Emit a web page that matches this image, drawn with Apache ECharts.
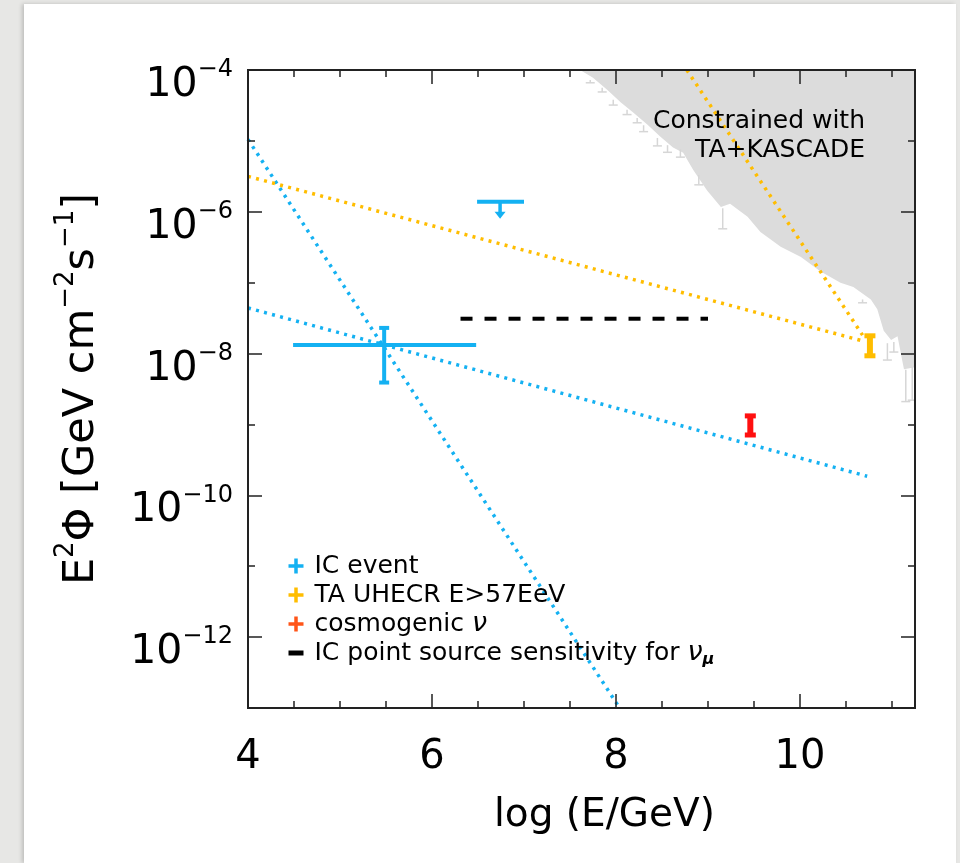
<!DOCTYPE html>
<html><head><meta charset="utf-8">
<script src="https://cdn.jsdelivr.net/npm/echarts@6/dist/echarts.min.js"></script>
<style>
html,body{margin:0;padding:0;background:#e7e7e5;overflow:hidden;width:960px;height:863px;}
#card{position:absolute;left:24px;top:4px;width:932px;height:859px;background:#fff;box-shadow:-2px 0 4px rgba(0,0,0,0.18);}
#chart{position:absolute;left:0;top:0;width:960px;height:863px;}
</style></head><body>
<div id="card"></div><div id="chart"></div>
<script>
// ---------------- data ----------------
// IC event (best fit with error bars)
const icEventX = [5.48], icEventY = [1.32e-8];
const icEventXLo = [4.49], icEventXHi = [6.48];
const icEventYLo = [3.9e-9], icEventYHi = [2.3e-8];
// IC upper limit with arrow
const icLimitXLo = [6.49], icLimitXHi = [7.0], icLimitY = [1.38e-6];
const icLimitArrowX = [6.74], icLimitArrowTip = [8.0e-7];
// TA UHECR point
const taX = [10.76], taY = [1.29e-8], taYLo = [9.3e-9], taYHi = [1.78e-8];
// cosmogenic neutrino point
const cosmoX = [9.46], cosmoY = [9.8e-10], cosmoYLo = [7.1e-10], cosmoYHi = [1.32e-9];
// dotted power-law lines (end points)
const icSteepX = [4, 8.04], icSteepY = [1.05e-5, 1e-13];
const icShallowX = [4, 10.73], icShallowY = [4.4e-8, 1.86e-10];
const taShallowX = [4, 10.68], taShallowY = [3.16e-6, 1.51e-8];
const taSteepX = [8.77, 10.68], taSteepY = [1e-4, 1.82e-8];
// IC point source sensitivity (dashed)
const sensX = [6.31, 9.0], sensY = [3.1e-8, 3.1e-8];
// Constrained with TA+KASCADE (lower boundary of shaded region)
const constrX = [7.61, 7.75, 7.91, 8.05, 8.19, 8.34, 8.48, 8.62, 8.73, 8.84, 8.99, 9.14, 9.24, 9.43, 9.57, 9.79, 10.01, 10.22, 10.44, 10.58, 10.77, 10.84, 10.91, 10.99, 11.06, 11.13, 11.25];
const constrY = [1e-4, 7.8e-5, 5.2e-5, 3.5e-5, 2.5e-5, 1.7e-5, 1.15e-5, 8.1e-6, 6.8e-6, 3.9e-6, 2.0e-6, 1.17e-6, 1.3e-6, 8.5e-7, 5.2e-7, 3.2e-7, 2.3e-7, 1.45e-7, 1.0e-7, 8.7e-8, 5.8e-8, 4.2e-8, 2.1e-8, 1.55e-8, 1.75e-8, 6.0e-9, 6.4e-9];
// error bars hanging from the shaded boundary
const constrBarX = [7.72, 7.85, 7.97, 8.12, 8.23, 8.30, 8.45, 8.56, 8.70, 8.90, 9.16, 10.68, 10.95, 11.02, 11.15, 11.22];
const constrBarHi = [7.2e-5, 5.6e-5, 3.8e-5, 2.75e-5, 2.1e-5, 1.66e-5, 1.1e-5, 8.7e-6, 7.6e-6, 3.3e-6, 1.12e-6, 5.8e-8, 1.4e-8, 1.45e-8, 5.9e-9, 6.5e-9];
const constrBarLo = [6.6e-5, 4.9e-5, 3.2e-5, 2.35e-5, 1.8e-5, 1.35e-5, 8.5e-6, 6.9e-6, 5.9e-6, 2.4e-6, 5.75e-7, 5.2e-8, 8.1e-9, 1.05e-8, 2.1e-9, 2.2e-9];
// axis tick labels
const xTickLabels = [4, 6, 8, 10];
const yTickExps = [-12, -10, -8, -6, -4];
// legend
const legendNames = ['IC event', 'TA UHECR E>57EeV', 'cosmogenic ν', 'IC point source sensitivity for νμ'];
const legendRich = {
  'IC event': '{t|IC event}',
  'TA UHECR E>57EeV': '{t|TA UHECR E>57EeV}',
  'cosmogenic ν': '{t|cosmogenic }{g|ν}',
  'IC point source sensitivity for νμ': '{t|IC point source sensitivity for }{g|ν}{m|μ}'
};
const annotationLines = ['Constrained with', 'TA+KASCADE'];

// ---------------- styles ----------------
const FONT = '"DejaVu Sans", "Liberation Sans", sans-serif';
const BLUE = '#14b1f2', ORANGE = '#ffbd00', RED = '#ff1010', COSMO_LEG = '#ff5518';
const GREYFILL = '#dcdcdc', GREYBAR = '#d6d6d6', INK = '#222';
const X_MIN = 4, X_MAX = 11.25, Y_MIN = 1e-13, Y_MAX = 1e-4;
const PLUS = 'path://M0,0M27,15M11.75,0H15.25V5.75H21V9.25H15.25V15H11.75V9.25H6V5.75H11.75Z';
const BAR = 'path://M0,0M27,15M6,5H21V10H6Z';
const legendIcons = [PLUS, PLUS, PLUS, BAR];
const legendColors = [BLUE, ORANGE, COSMO_LEG, '#000'];

function zip(a, b) { return a.map((v, i) => [v, b[i]]); }

function xAxisDef(pos, interval, len, labels) {
  return {
    type: 'value', position: pos, min: X_MIN, max: X_MAX, interval: interval, z: 5,
    axisLine: { show: true, onZero: false, lineStyle: { color: INK, width: 2 } },
    axisTick: { show: true, inside: true, length: len, lineStyle: { color: INK, width: 1.5 } },
    axisLabel: labels ? {
      show: true, margin: 30, showMaxLabel: false, fontFamily: FONT, fontSize: 40, color: '#000',
      formatter: v => xTickLabels.includes(Math.round(v)) && Math.abs(v - Math.round(v)) < 1e-6 ? String(Math.round(v)) : ''
    } : { show: false },
    splitLine: { show: false },
    name: labels ? 'log (E/GeV)' : '', nameLocation: 'middle', nameGap: 88,
    nameTextStyle: { fontFamily: FONT, fontSize: 39, color: '#000', padding: [0, 0, 0, 46] }
  };
}
function yAxisDef(pos, base, len, labels) {
  const ax = {
    type: 'log', logBase: base, position: pos, min: Y_MIN, max: Y_MAX, z: 5,
    axisLine: { show: true, onZero: false, lineStyle: { color: INK, width: 2 } },
    axisTick: { show: true, inside: true, length: len, lineStyle: { color: INK, width: 1.5 } },
    axisLabel: { show: false },
    splitLine: { show: false }, minorTick: { show: false }
  };
  if (labels) {
    ax.axisLabel = {
      show: true, margin: 15, showMinLabel: false, showMaxLabel: true,
      formatter: v => { const e = Math.round(Math.log10(v)); return yTickExps.includes(e) ? '{b|10}{s|−' + (-e) + '}' : ''; },
      rich: {
        b: { fontFamily: FONT, fontSize: 41, lineHeight: 41, color: '#000', verticalAlign: 'bottom' },
        s: { fontFamily: FONT, fontSize: 24, lineHeight: 72, color: '#000', verticalAlign: 'middle' }
      }
    };
    ax.name = '{n|E}{u|2}{n|Φ [GeV cm}{u|−2}{n|s}{u|−1}{n|]}';
    ax.nameLocation = 'middle'; ax.nameRotate = 90; ax.nameGap = 145;
    ax.nameTextStyle = {
      fontFamily: FONT, fontSize: 43, color: '#000',
      rich: {
        n: { fontFamily: FONT, fontSize: 43, lineHeight: 50, color: '#000', verticalAlign: 'bottom' },
        u: { fontFamily: FONT, fontSize: 26, lineHeight: 25, color: '#000', verticalAlign: 'top' }
      }
    };
  }
  return ax;
}

function vBarRender(color, stemW, capW, capH, capTop, capBottom) {
  return function (params, api) {
    const x = api.value(0);
    const a = api.coord([x, api.value(1)]);
    const b = api.coord([x, api.value(2)]);
    const ch = [{ type: 'line', shape: { x1: a[0], y1: a[1], x2: b[0], y2: b[1] }, style: { stroke: color, lineWidth: stemW } }];
    if (capTop) ch.push({ type: 'rect', shape: { x: a[0] - capW / 2, y: a[1] - capH / 2, width: capW, height: capH }, style: { fill: color } });
    if (capBottom) ch.push({ type: 'rect', shape: { x: b[0] - capW / 2, y: b[1] - capH / 2, width: capW, height: capH }, style: { fill: color } });
    return { type: 'group', children: ch };
  };
}
function crossRender(params, api) {
  const x = api.value(0), y = api.value(1);
  const l = api.coord([api.value(2), y]), r = api.coord([api.value(3), y]);
  const lo = api.coord([x, api.value(4)]), hi = api.coord([x, api.value(5)]);
  return { type: 'group', children: [
    { type: 'line', shape: { x1: l[0], y1: l[1], x2: r[0], y2: r[1] }, style: { stroke: BLUE, lineWidth: 4 } },
    { type: 'line', shape: { x1: hi[0], y1: hi[1], x2: lo[0], y2: lo[1] }, style: { stroke: BLUE, lineWidth: 4 } },
    { type: 'rect', shape: { x: hi[0] - 5, y: hi[1] - 2, width: 10, height: 4 }, style: { fill: BLUE } },
    { type: 'rect', shape: { x: lo[0] - 5, y: lo[1] - 2, width: 10, height: 4 }, style: { fill: BLUE } }
  ] };
}
function limitRender(params, api) {
  const y = api.value(2);
  const l = api.coord([api.value(0), y]), r = api.coord([api.value(1), y]);
  const s = api.coord([api.value(3), y]), t = api.coord([api.value(3), api.value(4)]);
  return { type: 'group', children: [
    { type: 'line', shape: { x1: l[0], y1: l[1], x2: r[0], y2: r[1] }, style: { stroke: BLUE, lineWidth: 4 } },
    { type: 'line', shape: { x1: s[0], y1: s[1], x2: t[0], y2: t[1] - 6 }, style: { stroke: BLUE, lineWidth: 3.5 } },
    { type: 'polygon', shape: { points: [[t[0] - 5.5, t[1] - 7], [t[0] + 5.5, t[1] - 7], [t[0], t[1]]] }, style: { fill: BLUE } }
  ] };
}
function dotted(name, xs, ys, color) {
  return { type: 'line', name: name, data: zip(xs, ys), symbol: 'none', z: 3, silent: true, clip: true,
    lineStyle: { color: color, width: 3.5, type: [3, 5.3], cap: 'butt' } };
}

const chart = echarts.init(document.getElementById('chart'), null, { renderer: 'canvas' });
chart.setOption({
  animation: false,
  backgroundColor: 'transparent',
  grid: { left: 248, right: 45, top: 70, bottom: 155, containLabel: false, outerBoundsMode: 'none' },
  xAxis: [xAxisDef('bottom', 2, 14, true), xAxisDef('bottom', 0.5, 7, false), xAxisDef('top', 2, 14, false), xAxisDef('top', 0.5, 7, false)],
  yAxis: [yAxisDef('left', 10, 7, false), yAxisDef('left', 100, 14, true), yAxisDef('right', 10, 7, false), yAxisDef('right', 100, 14, false)],
  legend: {
    orient: 'vertical', left: 282.5, top: 551.5, padding: 0, itemGap: 0, itemWidth: 27, itemHeight: 15,
    selectedMode: false, symbolKeepAspect: true, itemStyle: { borderWidth: 0 },
    data: legendNames.map((n, i) => ({ name: n, icon: legendIcons[i], itemStyle: { color: legendColors[i], borderWidth: 0 } })),
    formatter: n => legendRich[n],
    textStyle: {
      fontFamily: FONT, fontSize: 25, color: '#000', lineHeight: 29,
      rich: {
        t: { fontFamily: FONT, fontSize: 25, lineHeight: 29, color: '#000' },
        g: { fontFamily: FONT, fontSize: 27, lineHeight: 29, color: '#000', fontStyle: 'italic' },
        m: { fontFamily: FONT, fontSize: 16, lineHeight: 16, color: '#000', fontStyle: 'italic', fontWeight: 'bold', verticalAlign: 'bottom' }
      }
    }
  },
  graphic: annotationLines.map((txt, i) => ({
    type: 'text', right: 95, top: 109 + i * 29, z: 20, silent: true,
    style: { text: txt, font: '25px "DejaVu Sans"', fill: '#000' }
  })),
  series: [
    { type: 'line', name: 'constrained', data: zip(constrX, constrY), symbol: 'none', z: 1, silent: true,
      lineStyle: { width: 0, color: GREYFILL }, areaStyle: { color: GREYFILL, opacity: 1, origin: 'end' } },
    { type: 'custom', name: 'constrainedBars', z: 2, silent: true, clip: true,
      data: constrBarX.map((x, i) => [x, constrBarHi[i], constrBarLo[i]]),
      renderItem: vBarRender(GREYBAR, 1.5, 9, 1.5, false, true) },
    dotted('icSteep', icSteepX, icSteepY, BLUE),
    dotted('icShallow', icShallowX, icShallowY, BLUE),
    dotted('taShallow', taShallowX, taShallowY, ORANGE),
    dotted('taSteep', taSteepX, taSteepY, ORANGE),
    { type: 'line', name: legendNames[3], data: zip(sensX, sensY), symbol: 'none', z: 3, silent: true,
      lineStyle: { color: '#000', width: 4, type: [12, 12], cap: 'butt' }, itemStyle: { color: '#000' } },
    { type: 'custom', name: legendNames[0], z: 4, silent: true, itemStyle: { color: BLUE },
      data: icEventX.map((x, i) => [x, icEventY[i], icEventXLo[i], icEventXHi[i], icEventYLo[i], icEventYHi[i]]),
      renderItem: crossRender },
    { type: 'custom', name: legendNames[0], z: 4, silent: true, itemStyle: { color: BLUE },
      data: icLimitXLo.map((x, i) => [x, icLimitXHi[i], icLimitY[i], icLimitArrowX[i], icLimitArrowTip[i]]),
      encode: { x: [0, 1, 3], y: [2, 4] },
      renderItem: limitRender },
    { type: 'custom', name: legendNames[1], z: 4, silent: true, itemStyle: { color: ORANGE },
      data: taX.map((x, i) => [x, taYHi[i], taYLo[i], taY[i]]),
      renderItem: vBarRender(ORANGE, 6, 11, 5, true, true) },
    { type: 'custom', name: legendNames[2], z: 4, silent: true, itemStyle: { color: RED },
      data: cosmoX.map((x, i) => [x, cosmoYHi[i], cosmoYLo[i], cosmoY[i]]),
      renderItem: vBarRender(RED, 6, 11, 5, true, true) }
  ]
});
</script></body></html>
